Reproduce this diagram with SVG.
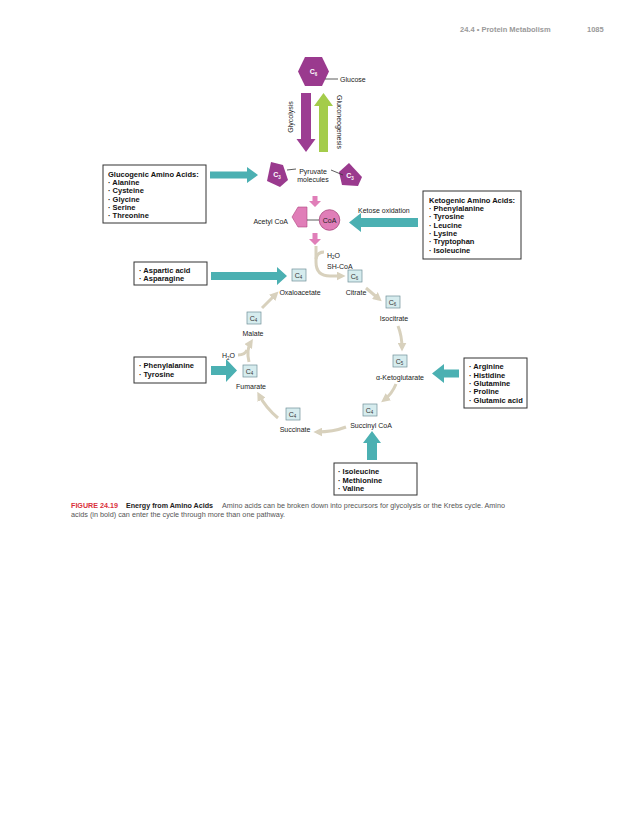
<svg xmlns="http://www.w3.org/2000/svg" width="630" height="815" viewBox="0 0 630 815">
<defs>
<marker id="bh" viewBox="0 0 10 10" refX="6" refY="5" markerWidth="3" markerHeight="3" orient="auto" markerUnits="strokeWidth">
<path d="M0,0 L10,5 L0,10 z" fill="#d8d1bd"/>
</marker>
<style>
text{font-family:"Liberation Sans",Arial,sans-serif;}
.lbl{font-size:7px;fill:#222;}
.lblm{font-size:7px;fill:#222;text-anchor:middle;}
.b{font-size:7.5px;font-weight:bold;fill:#111;}
.box{fill:#fff;stroke:#333;stroke-width:1;}
.cbox{fill:#d6ecee;stroke:#6f9198;stroke-width:0.7;}
.ct{font-size:7px;fill:#333;text-anchor:middle;}
.teal{fill:#4bb0b2;}
.cyc{fill:none;stroke:#d8d1bd;stroke-width:3;marker-end:url(#bh);}
.cyc0{fill:none;stroke:#d8d1bd;stroke-width:3;}
.pur{fill:#9a3a8e;}
.wt{font-size:7px;fill:#fff;text-anchor:middle;font-weight:bold;}
.pink{fill:#e07eb8;}
.hdr{font-size:7.5px;fill:#9a9a9a;font-weight:bold;}
.cap{font-size:7px;fill:#555;}
</style>
</defs>
<rect width="630" height="815" fill="#fff"/>

<g id="header">
<text class="hdr" x="460" y="32">24.4 • Protein Metabolism</text>
<text class="hdr" x="587" y="32">1085</text>
</g>

<g id="glucose">
<polygon class="pur" points="298,71.5 305,57 322,57 329,71.5 322,86 305,86"/>
<text class="wt" x="313.5" y="74">C<tspan font-size="4.5" dy="1.5">6</tspan></text>
<line x1="325" y1="79" x2="338" y2="79" stroke="#333" stroke-width="0.8"/>
<text class="lbl" x="340" y="82">Glucose</text>
</g>

<g id="glycolysis">
<polygon fill="#9c3d92" points="301,93 311,93 311,139 315.5,139 306,152 296.5,139 301,139"/>
<text class="lbl" transform="translate(293,117) rotate(-90)" text-anchor="middle" font-size="7.5">Glycolysis</text>
</g>
<g id="gluconeogenesis">
<polygon fill="#a4cc4b" points="319,152 328,152 328,106 333,106 323.5,93 314,106 319,106"/>
<text class="lbl" transform="translate(337,122) rotate(90)" text-anchor="middle" font-size="7.5">Gluconeogenesis</text>
</g>

<g id="pyruvate">
<polygon class="pur" points="271,162 283,165 288,180 280,187 267,181"/>
<text class="wt" x="277" y="177">C<tspan font-size="4.5" dy="1.5">3</tspan></text>
<polygon class="pur" points="349,163 362,177 358,186 342,185 339,172"/>
<text class="wt" x="350" y="178">C<tspan font-size="4.5" dy="1.5">3</tspan></text>
<line x1="287" y1="170" x2="296" y2="169" stroke="#333" stroke-width="0.8"/>
<line x1="331" y1="170" x2="343" y2="175" stroke="#333" stroke-width="0.8"/>
<text class="lblm" x="313" y="173.5">Pyruvate</text>
<text class="lblm" x="313" y="182">molecules</text>
</g>

<g id="acetylcoa">
<polygon fill="#e07eb8" stroke="#b0477f" stroke-width="0.6" points="292,217 298,207 307,207 307,227 298,227"/>
<line x1="307" y1="220" x2="319" y2="220" stroke="#333" stroke-width="0.8"/>
<circle cx="329.5" cy="220" r="10.3" fill="#e07eb8" stroke="#a8457c" stroke-width="0.8"/>
<text class="lblm" x="329.5" y="222.5">CoA</text>
<text class="lbl" x="288" y="223.5" text-anchor="end">Acetyl CoA</text>
<text class="lbl" x="358" y="212.5" font-size="7.5">Ketose oxidation</text>
</g>

<g id="glucogenic">
<rect class="box" x="103" y="165" width="103" height="58"/>
<text class="b" x="108" y="176.7">Glucogenic Amino Acids:</text>
<text class="b" x="108" y="185">· Alanine</text>
<text class="b" x="108" y="193.4">· Cysteine</text>
<text class="b" x="108" y="201.7">· Glycine</text>
<text class="b" x="108" y="210">· Serine</text>
<text class="b" x="108" y="218.4">· Threonine</text>
</g>

<g id="ketogenic">
<rect class="box" x="423" y="191" width="98" height="68"/>
<text class="b" x="429" y="202.7">Ketogenic Amino Acids:</text>
<text class="b" x="429" y="211">· Phenylalanine</text>
<text class="b" x="429" y="219.4">· Tyrosine</text>
<text class="b" x="429" y="227.7">· Leucine</text>
<text class="b" x="429" y="236">· Lysine</text>
<text class="b" x="429" y="244.4">· Tryptophan</text>
<text class="b" x="429" y="252.7">· Isoleucine</text>
</g>

<g id="aspartic">
<rect class="box" x="134" y="262" width="73" height="23"/>
<text class="b" x="139" y="272.7">· Aspartic acid</text>
<text class="b" x="139" y="281">· Asparagine</text>
</g>

<g id="phenyltyr">
<rect class="box" x="134" y="357" width="72" height="26"/>
<text class="b" x="139" y="368.4">· Phenylalanine</text>
<text class="b" x="139" y="376.7">· Tyrosine</text>
</g>

<g id="arginine">
<rect class="box" x="464" y="358" width="63" height="50"/>
<text class="b" x="469" y="369.4">· Arginine</text>
<text class="b" x="469" y="377.7">· Histidine</text>
<text class="b" x="469" y="386">· Glutamine</text>
<text class="b" x="469" y="394.4">· Proline</text>
<text class="b" x="469" y="402.7">· Glutamic acid</text>
</g>

<g id="isoleucine">
<rect class="box" x="334" y="463" width="83" height="32"/>
<text class="b" x="338" y="474.4">· Isoleucine</text>
<text class="b" x="338" y="482.7">· Methionine</text>
<text class="b" x="338" y="491">· Valine</text>
</g>

<g id="oxaloacetate">
<rect class="cbox" x="292" y="269" width="14" height="12"/>
<text class="ct" x="298.5" y="277.5">C<tspan font-size="4.5" dy="1.5">4</tspan></text>
<text class="lblm" x="300" y="295">Oxaloacetate</text>
</g>
<g id="citrate">
<rect class="cbox" x="348" y="270" width="14" height="12"/>
<text class="ct" x="354.5" y="278.5">C<tspan font-size="4.5" dy="1.5">6</tspan></text>
<text class="lblm" x="356" y="295">Citrate</text>
<text class="lbl" x="327" y="257.5">H<tspan font-size="4.5" dy="1.5">2</tspan><tspan dy="-1.5">O</tspan></text>
<text class="lbl" x="327" y="268.5">SH-CoA</text>
</g>
<g id="isocitrate">
<rect class="cbox" x="386" y="296" width="14" height="12"/>
<text class="ct" x="392.5" y="304.5">C<tspan font-size="4.5" dy="1.5">6</tspan></text>
<text class="lblm" x="394" y="320.5">Isocitrate</text>
</g>
<g id="ketoglutarate">
<rect class="cbox" x="393" y="355" width="14" height="12"/>
<text class="ct" x="399.5" y="363.5">C<tspan font-size="4.5" dy="1.5">5</tspan></text>
<text class="lblm" x="400" y="379.5">α-Ketoglutarate</text>
</g>
<g id="succinylcoa">
<rect class="cbox" x="363" y="404" width="14" height="12"/>
<text class="ct" x="369.5" y="412.5">C<tspan font-size="4.5" dy="1.5">4</tspan></text>
<text class="lblm" x="371" y="428">Succinyl CoA</text>
</g>
<g id="succinate">
<rect class="cbox" x="286" y="408" width="14" height="12"/>
<text class="ct" x="292.5" y="416.5">C<tspan font-size="4.5" dy="1.5">4</tspan></text>
<text class="lblm" x="295" y="432">Succinate</text>
</g>
<g id="fumarate">
<rect class="cbox" x="243" y="365" width="14" height="12"/>
<text class="ct" x="249.5" y="373.5">C<tspan font-size="4.5" dy="1.5">4</tspan></text>
<text class="lblm" x="251" y="389">Fumarate</text>
<text class="lbl" x="222" y="358">H<tspan font-size="4.5" dy="1.5">2</tspan><tspan dy="-1.5">O</tspan></text>
</g>
<g id="malate">
<rect class="cbox" x="247" y="312" width="14" height="12"/>
<text class="ct" x="253.5" y="320.5">C<tspan font-size="4.5" dy="1.5">4</tspan></text>
<text class="lblm" x="253" y="335.5">Malate</text>
</g>

<g id="connectors">
<polygon class="teal" points="210,171.5 247,171.5 247,167 258,175 247,183 247,178.5 210,178.5"/>
<polygon class="teal" points="418,218 361,218 361,213 349,222.5 361,232 361,227 418,227"/>
<polygon class="teal" points="211,272 277,272 277,267 287,276 277,285 277,280 211,280"/>
<polygon class="teal" points="211,366 226,366 226,359 237,370.5 226,382 226,375 211,375"/>
<polygon class="teal" points="459,369.5 444,369.5 444,364 432,373.5 444,383 444,377.5 459,377.5"/>
<polygon class="teal" points="367,460 367,443 363,443 372,431 381,443 377,443 377,460"/>
<polygon class="pink" points="312.5,196 317.5,196 317.5,201 321,201 315,207 309,201 312.5,201"/>
<polygon class="pink" points="312.5,233 317.5,233 317.5,239 321,239 315,245 309,239 312.5,239"/>
<path class="cyc" d="M316,246 L316,262 Q316,276 330,276 L342,276"/>
<path class="cyc0" d="M316,259 Q317,252 324,252"/>
<path class="cyc" d="M366,288 L379,299"/>
<path class="cyc" d="M398,326 Q402,336 402,348"/>
<path class="cyc" d="M396,384 Q392,394 384,400"/>
<path class="cyc" d="M346,427 Q333,432 317,432"/>
<path class="cyc" d="M278,418 Q266,408 259,395"/>
<path class="cyc" d="M249,362 Q246,350 251,342"/>
<path class="cyc0" d="M238,355 Q245,355 247,350"/>
<path class="cyc" d="M262,308 L276,294"/>
</g>

<g id="caption">
<text x="71" y="507.5" font-size="7" fill="#d9303b" font-weight="bold" textLength="47" lengthAdjust="spacingAndGlyphs">FIGURE 24.19</text>
<text x="126" y="507.5" font-size="7" fill="#222" font-weight="bold" textLength="87" lengthAdjust="spacingAndGlyphs">Energy from Amino Acids</text>
<text class="cap" x="222" y="507.5" textLength="283" lengthAdjust="spacingAndGlyphs">Amino acids can be broken down into precursors for glycolysis or the Krebs cycle. Amino</text>
<text class="cap" x="71" y="516.5" textLength="214" lengthAdjust="spacingAndGlyphs">acids (in bold) can enter the cycle through more than one pathway.</text>
</g>
</svg>
